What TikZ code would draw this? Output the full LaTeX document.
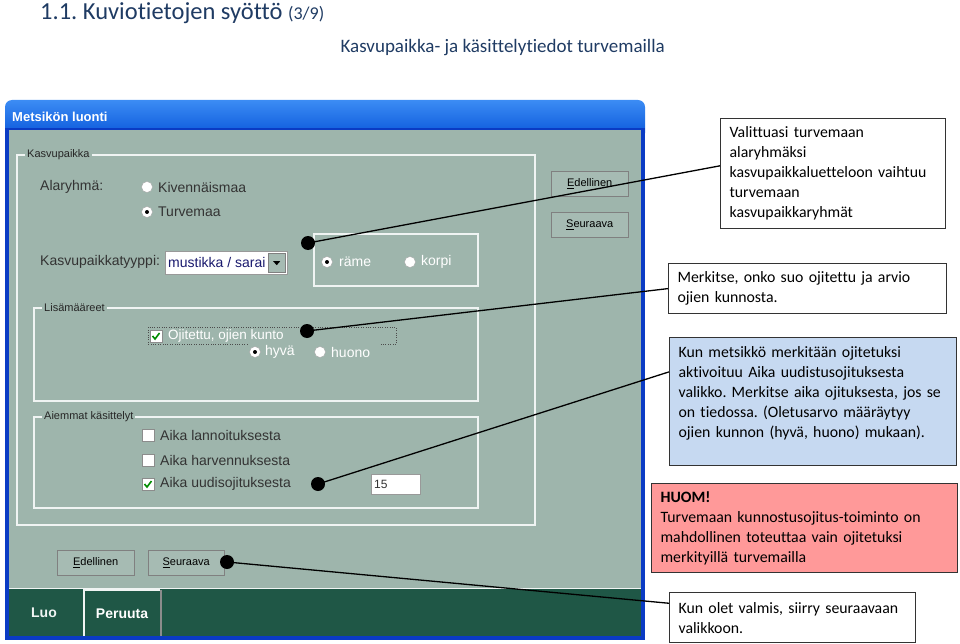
\documentclass[tikz,border=0pt]{standalone}
\usepackage{fontspec}
\setmainfont{Carlito}[Ligatures=NoCommon]
\newfontfamily\winfont{Liberation Sans}
\usetikzlibrary{calc}
\frenchspacing
\hyphenpenalty=10000

\definecolor{headblue}{HTML}{1F3B63}
\definecolor{dlgbody}{HTML}{9EB5AC}
\definecolor{dlgframe}{HTML}{0A3BC4}
\definecolor{barlight}{HTML}{3C8CF4}
\definecolor{bardark}{HTML}{0552D8}
\definecolor{tabgreen}{HTML}{1F5746}
\definecolor{btnface}{HTML}{A6BBB3}
\definecolor{notefill}{HTML}{C6D9F1}
\definecolor{warnfill}{HTML}{FF9999}
\definecolor{comboink}{HTML}{1A1A6E}

\tikzstyle{callout} = [draw=black!80, line width=1.2pt, rectangle, anchor=north west,
    align=left, inner xsep=9pt, inner ysep=4pt, font=\fontsize{15.8}{20}\selectfont]
\tikzstyle{pin} = [circle, fill=black, inner sep=0pt, minimum size=14pt]
\tikzstyle{lead} = [line width=1.3pt]
\tikzstyle{groupline} = [draw=white!85!dlgbody, line width=1.2pt]
\tikzstyle{grouplabel} = [fill=dlgbody, anchor=west, inner xsep=2pt, inner ysep=1pt,
    font=\winfont\fontsize{11}{13}\selectfont, text=black!85]
\tikzstyle{wintext} = [anchor=west, inner sep=0pt, font=\winfont\fontsize{14}{16}\selectfont, text=black!80]
\tikzstyle{wintextoff} = [wintext, text=white]
\tikzstyle{radio} = [circle, draw=black!35, fill=white, inner sep=0pt, minimum size=11pt]
\tikzstyle{radioon} = [radio, path picture={\fill[black] (path picture bounding box.center) circle (2pt);}]
\tikzstyle{tickbox} = [rectangle, draw=black!45, fill=white, inner sep=0pt, minimum size=12pt]
\tikzstyle{tickboxon} = [tickbox, path picture={\draw[green!55!black, line width=1.6pt]
    ($(path picture bounding box.center)+(-3.5,0)$) -- ++(2.5,3) -- ++(4.5,-6);}]
\tikzstyle{winbtn} = [rectangle, anchor=north west, fill=btnface, draw=black!50, inner sep=0pt,
    minimum width=77pt, minimum height=25pt, font=\winfont\fontsize{11}{13}\selectfont,
    path picture={\draw[white, line width=2pt] (path picture bounding box.south west)
      |- (path picture bounding box.north east);}]
\tikzstyle{tab} = [anchor=center, font=\winfont\bfseries\fontsize{14}{16}\selectfont]

\begin{document}
\begin{tikzpicture}[x=1pt,y=-1pt]
\useasboundingbox (0,0) rectangle (960,644);

% otsikot
\node[anchor=base west, inner sep=0pt, text=headblue, font=\fontsize{24.5}{26}\selectfont]
  (title) at (40,20) {1.1. Kuviotietojen syöttö {\fontsize{18}{20}\selectfont(3/9)}};
\node[anchor=base east, inner sep=0pt, text=headblue, font=\fontsize{19}{22}\selectfont]
  (subtitle) at (665,53) {Kasvupaikka- ja käsittelytiedot turvemailla};

% ikkuna
\shade[top color=barlight, bottom color=bardark, rounded corners=7pt] (5,100) rectangle (645,140);
\fill[dlgframe] (5,128) rectangle (645,640);
\fill[dlgbody] (9,130) rectangle (641,588);
\fill[tabgreen] (9,588) rectangle (641,636);
\draw[white!85!dlgbody, line width=1.2pt] (9,588.5) -- (641,588.5);
\node[anchor=west, inner sep=0pt, text=white, font=\winfont\bfseries\fontsize{13}{15}\selectfont]
  (wintitle) at (12,117) {Metsikön luonti};

% Kasvupaikka
\draw[groupline] (17,155) rectangle (535,525);
\node[grouplabel] (kasvlbl) at (25,155) {Kasvupaikka};
\node[wintext] (alaryhma) at (40,187) {Alaryhmä:};
\node[radio] (rkiv) at (147,187) {};
\node[wintext] (kiv) at (158,187) {Kivennäismaa};
\node[radioon] (rturve) at (147,212) {};
\node[wintext] (turve) at (158,212) {Turvemaa};
\node[wintext] (kptyyppi) at (40,262) {Kasvupaikkatyyppi:};
\node[rectangle, fill=white, draw=black!40, anchor=north west, minimum width=122pt,
  minimum height=23pt, inner sep=0pt] (combo) at (165,251) {};
\node[wintext, text=comboink] (combotext) at (168,262) {mustikka / sarai};
\node[winbtn, minimum width=17pt, minimum height=19pt] (drop) at (268,253) {};
\fill ($(drop.center)+(-3.5,-1.5)$) -- ++(7,0) -- ++(-3.5,4) -- cycle;
\draw[groupline] (314,234) rectangle (478,286);
\node[radioon] (rrame) at (327,262) {};
\node[wintextoff] (rame) at (339,262) {räme};
\node[radio] (rkorpi) at (410,262) {};
\node[wintextoff] (korpi) at (421,262) {korpi};
\node[winbtn] (edel1) at (551,171) {\underline{E}dellinen};
\node[winbtn] (seur1) at (551,212) {\underline{S}euraava};

% Lisämääreet
\draw[groupline] (34,308) rectangle (478,401);
\node[grouplabel] (lisalbl) at (42,308) {Lisämääreet};
\draw[dotted, black!70] (247,344) -| (148,327) -| (396,344) -- (379,344);
\node[tickboxon] (cojit) at (156,336) {};
\node[wintextoff, font=\winfont\fontsize{13.5}{16}\selectfont] (ojit) at (168,336) {Ojitettu, ojien kunto};
\node[radioon] (rhyva) at (255,352) {};
\node[wintextoff] (hyva) at (265,352) {hyvä};
\node[radio] (rhuono) at (320,352) {};
\node[wintextoff] (huono) at (331,352) {huono};

% Aiemmat käsittelyt
\draw[groupline] (34,417) rectangle (478,508);
\node[grouplabel] (aiemlbl) at (42,417) {Aiemmat käsittelyt};
\node[tickbox] (clann) at (148,435) {};
\node[wintext] (lann) at (160,435) {Aika lannoituksesta};
\node[tickbox] (charv) at (148,460) {};
\node[wintext] (harv) at (160,460) {Aika harvennuksesta};
\node[tickboxon] (cuudis) at (148,484) {};
\node[wintext] (uudis) at (160,484) {Aika uudisojituksesta};
\node[rectangle, fill=white, draw=black!40, anchor=north west, minimum width=49pt,
  minimum height=20pt, inner sep=0pt] (aikabox) at (371,474) {};
\node[wintext, font=\winfont\fontsize{12}{14}\selectfont] (aika) at (374,484) {15};

\node[winbtn] (edel2) at (57,550) {\underline{E}dellinen};
\node[winbtn, minimum width=76pt] (seur2) at (148,550) {\underline{S}euraava};

% välilehdet
\draw[white!85!dlgbody, line width=1.2pt] (84,636) -- (84,590) -- (160,590);
\draw[black!45, line width=1.2pt] (161,590) -- (161,636);
\node[tab, text=white!85!dlgbody] (luo) at (44,613) {Luo};
\node[tab, text=white] (peruuta) at (122,614) {Peruuta};

% selitteet
\node[callout, text width=207pt, minimum width=225pt, minimum height=110pt] (c1) at (720,118)
  {Valittuasi turvemaan\\alaryhmäksi\\kasvupaikkaluetteloon vaihtuu\\turvemaan\\kasvupaikkaryhmät};
\node[callout, text width=260pt, minimum width=278pt, minimum height=50pt] (c2) at (668,263)
  {Merkitse, onko suo ojitettu ja arvio\\ojien kunnosta.};
\node[callout, fill=notefill, text width=269pt, minimum width=287pt, minimum height=128pt] (c3) at (669,337)
  {Kun metsikkö merkitään ojitetuksi\\aktivoituu Aika uudistusojituksesta\\valikko. Merkitse aika ojituksesta, jos se\\on tiedossa. (Oletusarvo määräytyy\\ojien kunnon (hyvä, huono) mukaan).\\\mbox{}};
\node[callout, fill=warnfill, text width=288pt, minimum width=306pt, minimum height=89pt] (c4) at (651,483)
  {\textbf{HUOM!}\\Turvemaan kunnostusojitus-toiminto on\\mahdollinen toteuttaa vain ojitetuksi\\merkityillä turvemailla};
\node[callout, text width=228pt, minimum width=246pt, minimum height=50pt] (c5) at (669,592)
  {Kun olet valmis, siirry seuraavaan\\valikkoon.};

% pisteet ja viivat
\node[pin] (d1) at (308,243) {};
\node[pin] (d2) at (307,331) {};
\node[pin] (d3) at (318,484) {};
\node[pin] (d4) at (227,562) {};
\draw[lead] (d1.center) -- ($(c1.north west)!0.43!(c1.south west)$);
\draw[lead] (d2.center) -- (c2.west);
\draw[lead] (d3.center) -- ($(c3.north west)!0.27!(c3.south west)$);
\draw[lead] (d4.center) -- ($(c5.north west)!0.22!(c5.south west)$);
\end{tikzpicture}
\end{document}
